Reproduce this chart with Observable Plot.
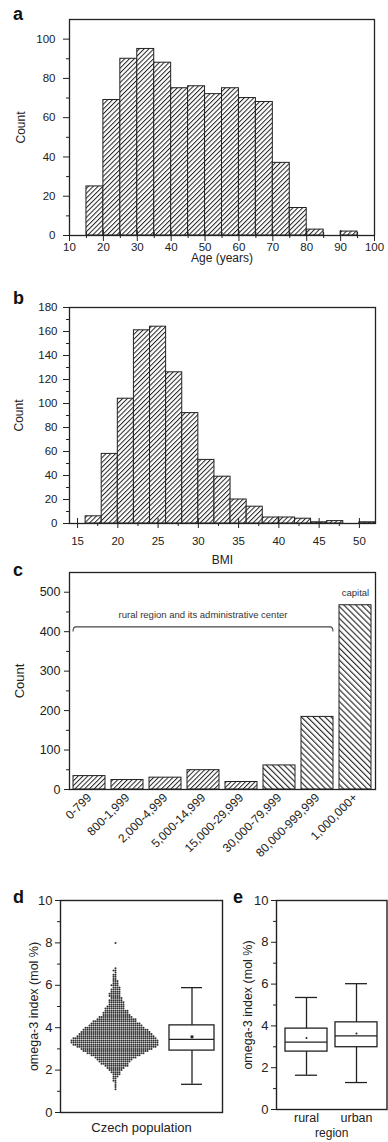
<!DOCTYPE html>
<html>
<head>
<meta charset="utf-8">
<script src="https://cdn.jsdelivr.net/npm/d3@7"></script>
<script src="https://cdn.jsdelivr.net/npm/@observablehq/plot@0.6"></script>
<style>
  html, body { margin: 0; padding: 0; background: #fff; }
  #fig { position: relative; width: 388px; height: 1142px; overflow: hidden; background: #fff;
         font-family: "Liberation Sans", Arial, Helvetica, sans-serif; }
  .letter { position: absolute; font: bold 18px "Liberation Sans", Arial, sans-serif; color: #111; line-height: 18px; }
</style>
</head>
<body>
<svg width="0" height="0" style="position:absolute;left:0;top:0">
  <defs>
    <pattern id="hatchR" patternUnits="userSpaceOnUse" width="3.4" height="3.4" patternTransform="rotate(45)">
      <rect width="3.4" height="3.4" fill="#fff"></rect>
      <line x1="0.5" y1="0" x2="0.5" y2="3.4" stroke="#222" stroke-width="1"></line>
    </pattern>
    <pattern id="hatchL" patternUnits="userSpaceOnUse" width="4.2" height="4.2" patternTransform="rotate(-45)">
      <rect width="4.2" height="4.2" fill="#fff"></rect>
      <line x1="0.6" y1="0" x2="0.6" y2="4.2" stroke="#222" stroke-width="1.1"></line>
    </pattern>
  </defs>
</svg>
<div id="fig">
  <div class="letter" style="left:13px;top:5px">a</div>
  <div class="letter" style="left:13px;top:289px">b</div>
  <div class="letter" style="left:13px;top:561px">c</div>
  <div class="letter" style="left:13px;top:888px">d</div>
  <div class="letter" style="left:233px;top:888px">e</div>
</div>
<script>
// ---------- data ----------
// (a) Age histogram
const ageBinStarts = [15, 20, 25, 30, 35, 40, 45, 50, 55, 60, 65, 70, 75, 80, 85, 90];
const ageCounts    = [25, 69, 90, 95, 88, 75, 76, 72, 75, 70, 68, 37, 14, 3, 0, 2];
const ageBinWidth  = 5;
const ageTicks     = [10, 20, 30, 40, 50, 60, 70, 80, 90, 100];
const ageMinorTicks = [15, 25, 35, 45, 55, 65, 75, 85, 95];
const ageCountTicks = [0, 20, 40, 60, 80, 100];
const ageCountMinor = [10, 30, 50, 70, 90];

// (b) BMI histogram
const bmiBinStarts = [16, 18, 20, 22, 24, 26, 28, 30, 32, 34, 36, 38, 40, 42, 44, 46, 48, 50];
const bmiCounts    = [6, 58, 104, 161, 164, 126, 92, 53, 39, 20, 14, 5, 5, 4, 1, 2, 0, 1];
const bmiBinWidth  = 2;
const bmiTicks     = [15, 20, 25, 30, 35, 40, 45, 50];
const bmiMinorTicks = [17.5, 22.5, 27.5, 32.5, 37.5, 42.5, 47.5];
const bmiCountTicks = [0, 20, 40, 60, 80, 100, 120, 140, 160, 180];
const bmiCountMinor = [10, 30, 50, 70, 90, 110, 130, 150, 170];

// (c) Residence size
const sizeCategories = ["0-799", "800-1,999", "2,000-4,999", "5,000-14,999", "15,000-29,999",
                        "30,000-79,999", "80,000-999,999", "1,000,000+"];
const sizeCounts = [34, 24, 30, 49, 19, 61, 184, 467];
const sizeCountTicks = [0, 100, 200, 300, 400, 500];
const sizeCountMinor = [50, 150, 250, 350, 450];
const ruralLabel = "rural region and its administrative center";
const ruralCategories = sizeCategories.slice(0, 7);
const bracketLevel = 411, bracketEnd = 399, bracketTextLevel = 442;
const capitalLabel = "capital";
const capitalLevel = 498;

// (d) omega-3 index, whole sample: dots per 0.1 mol % level
const omegaLevels = [1.1, 1.2, 1.3, 1.4, 1.5, 1.6, 1.7, 1.8, 1.9, 2.0,
                     2.1, 2.2, 2.3, 2.4, 2.5, 2.6, 2.7, 2.8, 2.9, 3.0,
                     3.1, 3.2, 3.3, 3.4, 3.5, 3.6, 3.7, 3.8, 3.9, 4.0,
                     4.1, 4.2, 4.3, 4.4, 4.5, 4.6, 4.7, 4.8, 4.9, 5.0,
                     5.1, 5.2, 5.3, 5.4, 5.5, 5.6, 5.7, 5.8, 5.9, 6.0,
                     6.1, 6.2, 6.3, 6.4, 6.5, 6.6, 6.7, 6.8, 8.0];
const omegaCounts = [1, 1, 1, 1, 2, 2, 3, 4, 5, 7,
                     9, 12, 14, 16, 18, 21, 25, 29, 33, 36,
                     40, 43, 44, 44, 42, 39, 37, 35, 33, 30,
                     27, 25, 22, 20, 17, 14, 13, 12, 10, 9,
                     8, 8, 7, 6, 6, 6, 5, 5, 4, 4,
                     3, 3, 2, 2, 2, 1, 2, 1, 1];
const popLabel = "Czech population";
const popLow = 1.33, popQ1 = 2.92, popMedian = 3.45, popQ3 = 4.11, popHigh = 5.89, popMean = 3.57;

// (e) omega-3 index by region
const regionGroups = ["rural", "urban"];
const regionLow    = [1.64, 1.29];
const regionQ1     = [2.77, 2.98];
const regionMedian = [3.22, 3.52];
const regionQ3     = [3.87, 4.17];
const regionHigh   = [5.36, 6.02];
const regionMean   = [3.42, 3.64];
const omegaTicks = [0, 2, 4, 6, 8, 10];
const omegaMinor = [1, 3, 5, 7, 9];
const omegaLabel = "omega-3 index (mol %)";

// ---------- helpers ----------
const FONT = '"Liberation Sans", Arial, Helvetica, sans-serif';
const INK = "#222";
const fig = document.getElementById("fig");
const style = (fs) => ({fontFamily: FONT, fontSize: fs, color: INK, background: "transparent", overflow: "visible"});
const blank = () => "";
const yTitle = (label, dx, fontSize) =>
  Plot.text([label], {frameAnchor: "left", textAnchor: "middle", lineAnchor: "middle", dx, rotate: -90, fontSize, fill: INK});
const xTitle = (label, dy, fontSize) =>
  Plot.text([label], {frameAnchor: "bottom", textAnchor: "middle", lineAnchor: "middle", dy, fontSize, fill: INK});
function place(el, top, left) {
  el.style.position = "absolute";
  el.style.top = top + "px";
  el.style.left = left + "px";
  fig.appendChild(el);
}

// ---------- (a) ----------
const ageData = ageBinStarts.map((s, i) => ({start: s, end: s + ageBinWidth, count: ageCounts[i]}));
const plotA = Plot.plot({
  width: 388, height: 268,
  marginTop: 19, marginRight: 14, marginBottom: 33, marginLeft: 69,
  style: style("11.5px"),
  x: {domain: [10, 100]},
  y: {domain: [0, 110]},
  marks: [
    Plot.rectY(ageData, {x1: "start", x2: "end", y: "count", fill: "url(#hatchR)", stroke: INK, strokeWidth: 1}),
    Plot.frame({stroke: INK, strokeWidth: 1.3}),
    Plot.axisX({ticks: ageTicks, tickSize: 6, tickPadding: 1, label: null}),
    Plot.axisX({ticks: ageTicks, tickSize: -5, tickFormat: blank, label: null}),
    Plot.axisX({ticks: ageMinorTicks, tickSize: 3, tickFormat: blank, label: null}),
    Plot.axisX({ticks: ageMinorTicks, tickSize: -3, tickFormat: blank, label: null}),
    Plot.axisY({ticks: ageCountTicks, tickSize: 6, tickPadding: 8, label: null}),
    Plot.axisY({ticks: ageCountMinor, tickSize: 3, tickFormat: blank, label: null}),
    xTitle("Age (years)", 23, 12),
    yTitle("Count", -48, 12)
  ]
});
place(plotA, 0, 0);

// ---------- (b) ----------
const bmiData = bmiBinStarts.map((s, i) => ({start: s, end: s + bmiBinWidth, count: bmiCounts[i]}));
const plotB = Plot.plot({
  width: 388, height: 285,
  marginTop: 27, marginRight: 13, marginBottom: 42, marginLeft: 69,
  style: style("11.5px"),
  x: {domain: [14, 52]},
  y: {domain: [0, 180]},
  marks: [
    Plot.rectY(bmiData, {x1: "start", x2: "end", y: "count", fill: "url(#hatchR)", stroke: INK, strokeWidth: 1}),
    Plot.frame({stroke: INK, strokeWidth: 1.3}),
    Plot.axisX({ticks: bmiTicks, tickSize: 5, tickPadding: 8, label: null}),
    Plot.axisX({ticks: bmiTicks, tickSize: -5, tickFormat: blank, label: null}),
    Plot.axisX({ticks: bmiMinorTicks, tickSize: 3, tickFormat: blank, label: null}),
    Plot.axisY({ticks: bmiCountTicks, tickSize: 6, tickPadding: 6, label: null}),
    Plot.axisY({ticks: bmiCountMinor, tickSize: 3, tickFormat: blank, label: null}),
    xTitle("BMI", 37, 12),
    yTitle("Count", -50, 12)
  ]
});
place(plotB, 280, 0);

// ---------- (c) ----------
const sizeData = sizeCategories.map((c, i) => ({category: c, count: sizeCounts[i], back: i >= 5}));
const bracket = (index, scales) => {
  const {x, y} = scales;
  const bw = typeof x.bandwidth === "function" ? x.bandwidth() : 0;
  const x0 = x(ruralCategories[0]);
  const x1 = x(ruralCategories[ruralCategories.length - 1]) + bw;
  const g = d3.create("svg:g");
  g.append("path")
    .attr("d", `M${x0},${y(bracketEnd)}Q${x0},${y(bracketLevel)} ${x0 + 3},${y(bracketLevel)}H${x1 - 3}Q${x1},${y(bracketLevel)} ${x1},${y(bracketEnd)}`)
    .attr("fill", "none").attr("stroke", "#444").attr("stroke-width", 1.1);
  g.append("text")
    .attr("x", (x0 + x1) / 2).attr("y", y(bracketTextLevel))
    .attr("text-anchor", "middle").attr("dy", "0.32em")
    .attr("font-size", 9.5).attr("fill", "#333")
    .text(ruralLabel);
  return g.node();
};
const plotC = Plot.plot({
  width: 388, height: 295,
  marginTop: 7, marginRight: 13, marginBottom: 71, marginLeft: 69,
  style: style("12.5px"),
  x: {domain: sizeCategories, paddingInner: 0.15, paddingOuter: 0.1},
  y: {domain: [0, 550]},
  marks: [
    Plot.barY(sizeData, {x: "category", y: "count", fill: d => d.back ? "url(#hatchL)" : "url(#hatchR)", stroke: INK, strokeWidth: 1}),
    Plot.frame({stroke: INK, strokeWidth: 1.3}),
    Plot.axisX({tickSize: 0, tickPadding: 6, tickRotate: -45, fontSize: 12, label: null}),
    Plot.axisY({ticks: sizeCountTicks, tickSize: 5, tickPadding: 4, label: null}),
    Plot.axisY({ticks: sizeCountMinor, tickSize: 3, tickFormat: blank, label: null}),
    bracket,
    Plot.text([{category: sizeCategories[7], level: capitalLevel}], {x: "category", y: "level", text: () => capitalLabel, fontSize: 9.5, fill: "#333"}),
    yTitle("Count", -50, 13)
  ]
});
place(plotC, 565, 0);

// ---------- (d) ----------
const omegaPoints = omegaLevels.flatMap((v, i) => d3.range(omegaCounts[i]).map(() => ({value: v})));
const popStats = [{part: "box", low: popLow, q1: popQ1, median: popMedian, q3: popQ3, high: popHigh, mean: popMean}];
const plotD = Plot.plot({
  width: 230, height: 272,
  marginTop: 30, marginRight: 8, marginBottom: 30, marginLeft: 60,
  style: style("13px"),
  x: {type: "band", domain: ["swarm", "box"], paddingInner: 0.41, paddingOuter: 0.265, align: 0.8, axis: null},
  y: {domain: [0, 10]},
  marks: [
    Plot.ruleX(popStats, {x: "part", y1: "low", y2: "high", stroke: INK, strokeWidth: 1.3}),
    Plot.barY(popStats, {x: "part", y1: "q1", y2: "q3", fill: "white", stroke: INK, strokeWidth: 1.3}),
    Plot.tickY(popStats, {x: "part", y: "median", stroke: INK, strokeWidth: 1.3}),
    Plot.tickY(popStats, {x: "part", y: "low", stroke: INK, strokeWidth: 1.3, insetLeft: 12, insetRight: 12}),
    Plot.tickY(popStats, {x: "part", y: "high", stroke: INK, strokeWidth: 1.3, insetLeft: 12, insetRight: 12}),
    Plot.dot(popStats, {x: "part", y: "mean", symbol: "square", r: 1.6, fill: INK}),
    Plot.frame({stroke: INK, strokeWidth: 1.4}),
    Plot.axisY({ticks: omegaTicks, tickSize: 5, tickPadding: 3, label: null}),
    Plot.axisY({ticks: omegaMinor, tickSize: 3, tickFormat: blank, label: null}),
    xTitle(popLabel, 15, 13),
    yTitle(omegaLabel, -27, 12.5)
  ]
});
place(plotD, 870, 0);

// swarm overlay: same vertical scale, frame spanning the "swarm" slot of panel d
const plotDswarm = Plot.plot({
  width: 110, height: 272,
  marginTop: 30, marginRight: 0, marginBottom: 30, marginLeft: 0,
  style: style("13px"),
  x: {axis: null},
  y: {domain: [0, 10], axis: null},
  marks: [
    Plot.dot(omegaPoints, Plot.dodgeX({anchor: "middle", padding: 0, y: "value", r: 1, fill: "#303030"}))
  ]
});
place(plotDswarm, 870, 60);

// ---------- (e) ----------
const regionStats = regionGroups.map((g, i) => ({group: g, low: regionLow[i], q1: regionQ1[i], median: regionMedian[i],
  q3: regionQ3[i], high: regionHigh[i], mean: regionMean[i]}));
const plotE = Plot.plot({
  width: 158, height: 272,
  marginTop: 30, marginRight: 1.5, marginBottom: 33, marginLeft: 46,
  style: style("13px"),
  x: {domain: regionGroups, paddingInner: 0.157, paddingOuter: 0.167},
  y: {domain: [0, 10]},
  marks: [
    Plot.ruleX(regionStats, {x: "group", y1: "low", y2: "high", stroke: INK, strokeWidth: 1.3}),
    Plot.barY(regionStats, {x: "group", y1: "q1", y2: "q3", fill: "white", stroke: INK, strokeWidth: 1.3}),
    Plot.tickY(regionStats, {x: "group", y: "median", stroke: INK, strokeWidth: 1.3}),
    Plot.tickY(regionStats, {x: "group", y: "low", stroke: INK, strokeWidth: 1.3, insetLeft: 10, insetRight: 10}),
    Plot.tickY(regionStats, {x: "group", y: "high", stroke: INK, strokeWidth: 1.3, insetLeft: 10, insetRight: 10}),
    Plot.dot(regionStats, {x: "group", y: "mean", r: 1, fill: INK}),
    Plot.frame({stroke: INK, strokeWidth: 1.4}),
    Plot.axisX({tickSize: 0, tickPadding: 4, fontSize: 12.5, label: null}),
    Plot.axisY({ticks: omegaTicks, tickSize: 5, tickPadding: 3, label: null}),
    Plot.axisY({ticks: omegaMinor, tickSize: 3, tickFormat: blank, label: null}),
    xTitle("region", 24, 12),
    yTitle(omegaLabel, -29, 12.5)
  ]
});
place(plotE, 870, 230);
</script>
</body>
</html>
